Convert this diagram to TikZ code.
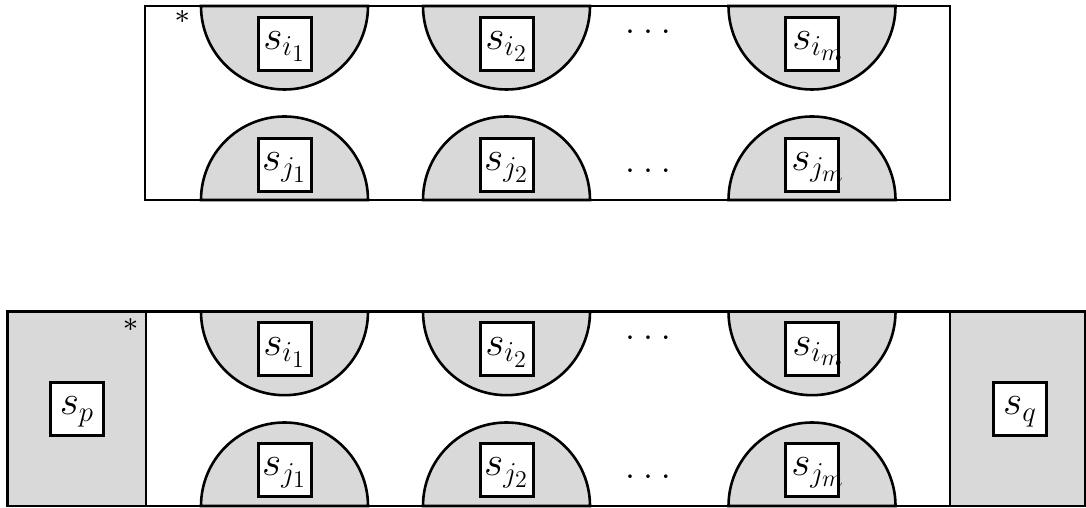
\documentclass[tikz,border=0pt]{standalone}
\usepackage{graphicx}
\definecolor{lgray}{RGB}{217,217,217}
\newcommand{\lbltxt}[2][0pt]{\makebox[0pt]{\hspace{#1}\raisebox{-6pt}[0pt][0pt]{\scalebox{2.0}{\huge$#2$}}}}
\newcommand{\threedots}{\scalebox{3.4}{.\kern.25em.\kern.25em.}}
\tikzset{
  frame/.style={draw=black, line width=2.9pt},
  lobe/.style={draw=black, fill=lgray, line width=2.6pt},
  sq/.style={draw=black, fill=white, line width=3pt, minimum size=53pt, inner sep=0pt, outer sep=0pt},
  dotsnode/.style={anchor=base, inner sep=0pt},
  star/.style={inner sep=0pt},
}
\begin{document}
\begin{tikzpicture}[x=1pt,y=1pt]
\useasboundingbox (0,0) rectangle (1086,508);
% ---------- top figure ----------
\fill[white] (145,308) rectangle (950,502);
\foreach \x in {284.5,506.5,812}{
  \draw[lobe] (\x+83.5,502) arc[start angle=0,end angle=-180,radius=83.5pt] -- cycle;
  \draw[lobe] (\x+83.5,308) arc[start angle=0,end angle=180,radius=83.5pt] -- cycle;
}
\draw[frame] (145,308) rectangle (950,502);
\node[sq] (ti1) at (284.5,464.3) {\lbltxt{s_{i_1}}};
\node[sq] (ti2) at (506.5,464.3) {\lbltxt{s_{i_2}}};
\node[sq] (tim) at (812,464.3) {\lbltxt[12pt]{s_{i_m}}};
\node[sq] (tj1) at (284.5,343.3) {\lbltxt{s_{j_1}}};
\node[sq] (tj2) at (506.5,343.3) {\lbltxt{s_{j_2}}};
\node[sq] (tjm) at (812,343.3) {\lbltxt[12pt]{s_{j_m}}};
\node[dotsnode] (tdi) at (648,474.3) {\threedots};
\node[dotsnode] (tdj) at (648,335.3) {\threedots};
\node[star] (tstar) at (182.3,487.3) {\scalebox{4}{\scriptsize *}};
% ---------- bottom figure ----------
\fill[white] (7.3,2) rectangle (1085,196.3);
\fill[lgray] (7.3,2) rectangle (146,196.3);
\fill[lgray] (950,2) rectangle (1085,196.3);
\foreach \x in {284.5,506.5,812}{
  \draw[lobe] (\x+83.5,196.3) arc[start angle=0,end angle=-180,radius=83.5pt] -- cycle;
  \draw[lobe] (\x+83.5,2) arc[start angle=0,end angle=180,radius=83.5pt] -- cycle;
}
\draw[frame] (7.3,2) rectangle (1085,196.3);
\draw[frame] (146,2) -- (146,196.3);
\draw[frame] (950,2) -- (950,196.3);
\node[sq] (bi1) at (284.5,158.7) {\lbltxt{s_{i_1}}};
\node[sq] (bi2) at (506.5,158.7) {\lbltxt{s_{i_2}}};
\node[sq] (bim) at (812,158.7) {\lbltxt[12pt]{s_{i_m}}};
\node[sq] (bj1) at (284.5,38) {\lbltxt{s_{j_1}}};
\node[sq] (bj2) at (506.5,38) {\lbltxt{s_{j_2}}};
\node[sq] (bjm) at (812,38) {\lbltxt[12pt]{s_{j_m}}};
\node[sq] (sp) at (77,99.2) {\lbltxt{s_p}};
\node[sq] (sq) at (1020,99.2) {\lbltxt{s_q}};
\node[dotsnode] (bdi) at (648,168.6) {\threedots};
\node[dotsnode] (bdj) at (648,29.6) {\threedots};
\node[star] (bstar) at (130.7,178.7) {\scalebox{4}{\scriptsize *}};
\end{tikzpicture}
\end{document}
